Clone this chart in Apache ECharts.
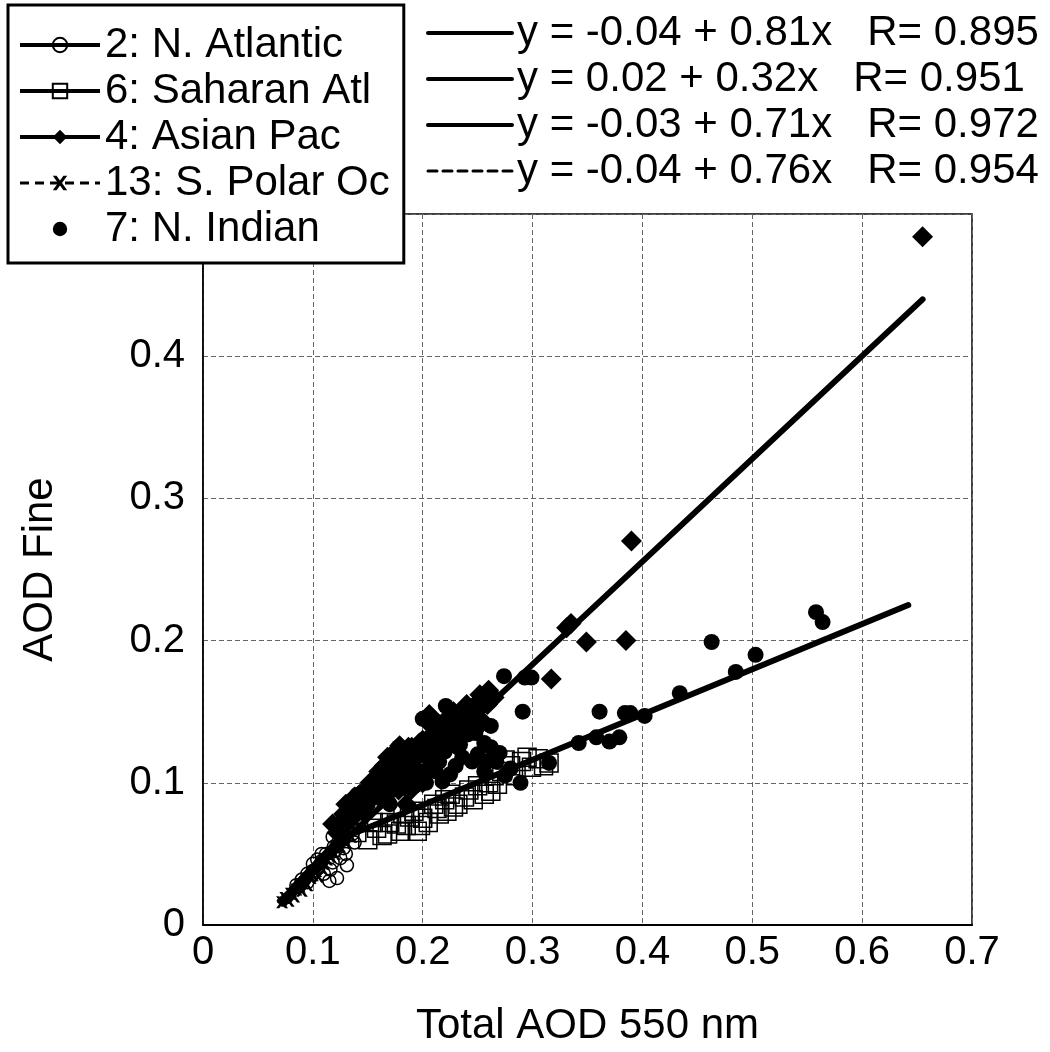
<!DOCTYPE html>
<html>
<head>
<meta charset="utf-8">
<script src="https://cdn.jsdelivr.net/npm/echarts@6/dist/echarts.min.js"></script>
<style>
html,body{margin:0;padding:0;background:#fff;}
#chart{width:1050px;height:1052px;}
</style>
</head>
<body>
<div id="chart"></div>
<script>
// ---------- data ----------
const xTicks = [0, 0.1, 0.2, 0.3, 0.4, 0.5, 0.6, 0.7];
const yTicks = [0, 0.1, 0.2, 0.3, 0.4];

const regionNames = ['2: N. Atlantic', '6: Saharan Atl', '4: Asian Pac', '13: S. Polar Oc', '7: N. Indian'];
const fitNames = [
  'y = -0.04 + 0.81x   R= 0.895',
  'y = 0.02 + 0.32x   R= 0.951',
  'y = -0.03 + 0.71x   R= 0.972',
  'y = -0.04 + 0.76x   R= 0.954'
];

const nAtlantic = [
  [0.085,0.028],[0.09,0.032],[0.095,0.036],[0.1,0.043],[0.1,0.038],[0.105,0.04],[0.108,0.045],
  [0.11,0.036],[0.112,0.05],[0.115,0.031],[0.118,0.044],[0.12,0.052],[0.122,0.033],[0.123,0.058],
  [0.125,0.047],[0.128,0.06],[0.13,0.05],[0.132,0.065],[0.135,0.07],[0.138,0.058],[0.14,0.075],
  [0.142,0.08],[0.145,0.094],[0.147,0.09],[0.15,0.085],[0.135,0.086],[0.14,0.092],[0.118,0.062],
  [0.126,0.071],[0.108,0.05],[0.095,0.03],[0.104,0.046],[0.116,0.039],[0.128,0.054],[0.136,0.064],
  [0.119,0.055],[0.131,0.042]
];
const saharanAtl = [
  [0.14,0.065],[0.15,0.06],[0.158,0.068],[0.163,0.063],[0.17,0.072],[0.176,0.071],[0.18,0.066],
  [0.185,0.07],[0.188,0.076],[0.192,0.08],[0.195,0.066],[0.2,0.075],[0.205,0.072],[0.21,0.085],
  [0.213,0.082],[0.215,0.078],[0.22,0.088],[0.225,0.092],[0.228,0.083],[0.232,0.085],[0.238,0.09],
  [0.242,0.095],[0.25,0.098],[0.256,0.092],[0.26,0.1],[0.265,0.105],[0.268,0.099],[0.272,0.108],
  [0.275,0.116],[0.28,0.112],[0.285,0.105],[0.29,0.115],[0.295,0.118],[0.299,0.111],[0.305,0.117],
  [0.31,0.112],[0.315,0.114],[0.155,0.072],[0.168,0.064],[0.182,0.078],[0.198,0.07],[0.222,0.08],
  [0.246,0.088],[0.262,0.094]
];
const asianPac = [
  [0.118,0.071],[0.122,0.065],[0.128,0.078],[0.135,0.082],[0.14,0.088],[0.143,0.092],[0.15,0.095],
  [0.155,0.1],[0.16,0.108],[0.165,0.112],[0.168,0.118],[0.172,0.105],[0.175,0.122],[0.179,0.126],
  [0.182,0.12],[0.188,0.094],[0.19,0.125],[0.195,0.118],[0.2,0.13],[0.206,0.148],[0.21,0.135],
  [0.215,0.141],[0.22,0.128],[0.225,0.14],[0.23,0.135],[0.236,0.15],[0.243,0.146],[0.248,0.155],
  [0.252,0.162],[0.255,0.143],[0.259,0.155],[0.265,0.16],[0.317,0.173],[0.331,0.209],[0.335,0.212],
  [0.349,0.199],[0.385,0.2],[0.39,0.27],[0.655,0.484],[0.16,0.09],[0.17,0.098],[0.145,0.08],
  [0.18,0.105],[0.2,0.1],
  [0.125,0.072],[0.13,0.085],[0.133,0.075],[0.138,0.09],[0.148,0.088],[0.152,0.1],[0.158,0.095],
  [0.163,0.102],[0.167,0.108],[0.17,0.115],[0.177,0.112],[0.185,0.115],[0.187,0.125],[0.193,0.11],
  [0.197,0.128],[0.203,0.122],[0.208,0.14],[0.212,0.13],[0.218,0.135],[0.223,0.146],[0.228,0.15],
  [0.233,0.142],[0.24,0.155],[0.245,0.15],[0.25,0.145],[0.26,0.165],[0.185,0.085],[0.178,0.095],
  [0.195,0.102],[0.205,0.11]
];
const sPolarOc = [
  [0.072,0.016],[0.075,0.019],[0.078,0.017],[0.08,0.022],[0.083,0.02],[0.085,0.025],[0.088,0.027],
  [0.09,0.024],[0.093,0.03],[0.095,0.028],[0.098,0.033],[0.1,0.035],[0.103,0.038],[0.105,0.034],
  [0.108,0.04],[0.11,0.043],[0.113,0.046],[0.116,0.048],[0.12,0.05],[0.125,0.055],[0.13,0.058],
  [0.135,0.062]
];
const nIndian = [
  [0.15,0.085],[0.16,0.095],[0.17,0.1],[0.175,0.11],[0.18,0.118],[0.185,0.1],[0.19,0.112],
  [0.195,0.12],[0.2,0.125],[0.205,0.118],[0.21,0.13],[0.212,0.108],[0.218,0.101],[0.221,0.154],
  [0.225,0.106],[0.228,0.135],[0.232,0.125],[0.234,0.127],[0.241,0.134],[0.245,0.115],[0.256,0.128],
  [0.256,0.108],[0.262,0.14],[0.267,0.115],[0.27,0.121],[0.274,0.175],[0.28,0.11],[0.289,0.1],
  [0.291,0.15],[0.293,0.174],[0.299,0.174],[0.315,0.114],[0.342,0.128],[0.358,0.132],[0.361,0.15],
  [0.37,0.129],[0.379,0.132],[0.384,0.149],[0.389,0.149],[0.402,0.147],[0.434,0.163],[0.463,0.199],
  [0.485,0.178],[0.503,0.19],[0.558,0.22],[0.564,0.213],
  [0.145,0.08],[0.155,0.09],[0.165,0.092],[0.17,0.085],[0.178,0.1],[0.183,0.108],[0.188,0.12],
  [0.193,0.098],[0.198,0.108],[0.203,0.1],[0.207,0.125],[0.215,0.115],[0.22,0.122],[0.225,0.13],
  [0.23,0.112],[0.236,0.118],[0.24,0.14],[0.248,0.135],[0.25,0.12],[0.258,0.115],[0.262,0.125],
  [0.275,0.105],[0.2,0.145],[0.21,0.14],[0.178,0.125]
];

// fitted lines: end points
const fitNAtlantic = [[0.08,0.025],[0.15,0.082]];
const fitSaharan   = [[0.13,0.062],[0.642,0.225]];
const fitAsianPac  = [[0.07,0.017],[0.655,0.44]];
const fitSPolar    = [[0.072,0.015],[0.135,0.063]];

// ---------- chart ----------
const FONT = 'Liberation Sans, Arial, sans-serif';
const xMark = 'path://M0,0L2.6,0L5,3.2L7.4,0L10,0L6.4,5L10,10L7.4,10L5,6.8L2.6,10L0,10L3.6,5Z';
const hollow = {color:'rgba(0,0,0,0)', borderColor:'#000', borderWidth:1.5};

function pts(name, data, symbol, size, itemStyle, z) {
  return {
    name, type:'line', data, symbol, symbolSize:size, showAllSymbol:true,
    itemStyle, lineStyle:{opacity:0, color:'#000', width:3}, z, silent:true,
    emphasis:{disabled:true}
  };
}
function fit(name, data, dashed) {
  return {
    name, type:'line', data, symbol:'none', z:6, silent:true,
    lineStyle:{color:'#000', width:6, type: dashed ? 'dashed' : 'solid', cap:'round'},
    itemStyle:{color:'#000'}, emphasis:{disabled:true}
  };
}

const chart = echarts.init(document.getElementById('chart'), null, {renderer:'canvas'});
chart.setOption({
  animation:false,
  backgroundColor:'#fff',
  grid:{left:203, right:78, top:214, bottom:120, show:true, borderColor:'#000', borderWidth:1.5, backgroundColor:'transparent'},
  xAxis:{
    type:'value', min:xTicks[0], max:xTicks[xTicks.length-1], interval:0.1,
    name:'Total AOD 550 nm', nameLocation:'middle', nameGap:80,
    nameTextStyle:{fontFamily:FONT, fontSize:42, color:'#000'},
    axisLine:{show:true, onZero:false, lineStyle:{color:'#000', width:2}},
    axisTick:{show:false},
    axisLabel:{fontFamily:FONT, fontSize:40, color:'#000', margin:8},
    splitLine:{show:true, lineStyle:{color:'#666', width:1, type:[5,3]}}
  },
  yAxis:{
    type:'value', min:yTicks[0], max:0.5, interval:0.1,
    name:'AOD Fine', nameLocation:'middle', nameGap:142, nameRotate:90,
    nameTextStyle:{fontFamily:FONT, fontSize:42, color:'#000'},
    axisLine:{show:true, onZero:false, lineStyle:{color:'#000', width:1.5}},
    axisTick:{show:false},
    axisLabel:{fontFamily:FONT, fontSize:40, color:'#000', margin:18,
      formatter: v => (yTicks.some(t => Math.abs(t - v) < 1e-9) ? String(+v.toFixed(1)) : '')},
    splitLine:{show:true, lineStyle:{color:'#666', width:1, type:[5,3]}}
  },
  legend:[
    {
      orient:'vertical', left:8, top:5, itemWidth:80, itemHeight:18, itemGap:4,
      padding:[19,14,13,10],
      backgroundColor:'#fff', borderColor:'#000', borderWidth:3, z:20,
      selectedMode:false,
      textStyle:{fontFamily:FONT, fontSize:42, color:'#000'},
      data:[
        {name:regionNames[0], lineStyle:{opacity:1, width:4, color:'#000'}},
        {name:regionNames[1], lineStyle:{opacity:1, width:4, color:'#000'}},
        {name:regionNames[2], lineStyle:{opacity:1, width:4, color:'#000'}},
        {name:regionNames[3], lineStyle:{opacity:1, width:3, color:'#000', type:[9,6]}},
        {name:regionNames[4], lineStyle:{opacity:0}}
      ]
    },
    {
      orient:'vertical', left:426, top:12, itemWidth:84, itemHeight:15, itemGap:4,
      padding:0, z:20, selectedMode:false,
      textStyle:{fontFamily:FONT, fontSize:42, color:'#000'},
      data:[
        {name:fitNames[0], itemStyle:{opacity:0}, lineStyle:{width:4, color:'#000'}},
        {name:fitNames[1], itemStyle:{opacity:0}, lineStyle:{width:4, color:'#000'}},
        {name:fitNames[2], itemStyle:{opacity:0}, lineStyle:{width:4, color:'#000'}},
        {name:fitNames[3], itemStyle:{opacity:0}, lineStyle:{width:3, color:'#000', type:[9,6]}}
      ]
    }
  ],
  series:[
    pts(regionNames[1], saharanAtl, 'rect', 18, hollow, 2),
    pts(regionNames[0], nAtlantic, 'circle', 13, hollow, 3),
    pts(regionNames[4], nIndian, 'circle', 16, {color:'#000'}, 3),
    pts(regionNames[2], asianPac, 'diamond', 21, {color:'#000'}, 4),
    pts(regionNames[3], sPolarOc, xMark, 12, {color:'#000'}, 4),
    fit(fitNames[0], fitNAtlantic, false),
    fit(fitNames[1], fitSaharan, false),
    fit(fitNames[2], fitAsianPac, false),
    fit(fitNames[3], fitSPolar, true)
  ]
});
</script>
</body>
</html>
